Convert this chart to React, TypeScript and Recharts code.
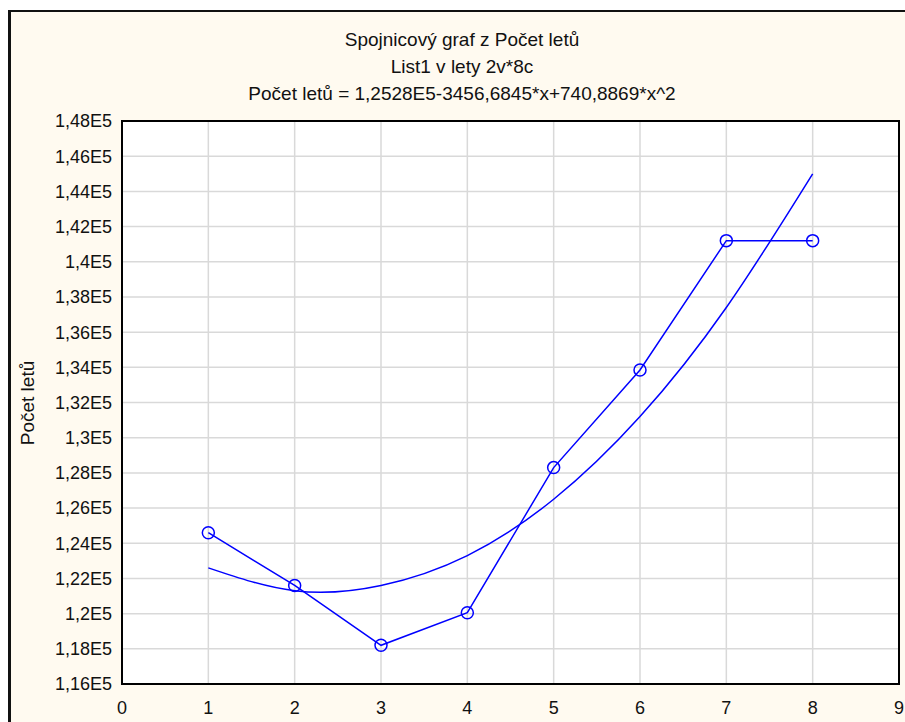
import React from "react";
import {
  LineChart,
  Line,
  XAxis,
  YAxis,
  CartesianGrid,
  ReferenceArea,
} from "recharts";

// x positions (roky / kategorie 1..8)
const xValues = [1, 2, 3, 4, 5, 6, 7, 8];
// Počet letů - observed values
const flights = [124600, 121600, 118200, 120050, 128300, 133850, 141200, 141200];
// quadratic fit curve
const fitValues = [122600, 121300, 121600, 123300, 126500, 131200, 137400, 145000];

const xTicks = [0, 1, 2, 3, 4, 5, 6, 7, 8, 9];
const yTicks = [
  116000, 118000, 120000, 122000, 124000, 126000, 128000, 130000, 132000,
  134000, 136000, 138000, 140000, 142000, 144000, 146000, 148000,
];
const yTickLabels = [
  "1,16E5", "1,18E5", "1,2E5", "1,22E5", "1,24E5", "1,26E5", "1,28E5", "1,3E5",
  "1,32E5", "1,34E5", "1,36E5", "1,38E5", "1,4E5", "1,42E5", "1,44E5", "1,46E5",
  "1,48E5",
];

const titleLines = [
  "Spojnicový graf z Počet letů",
  "List1 v lety 2v*8c",
  "Počet letů = 1,2528E5-3456,6845*x+740,8869*x^2",
];
const yLabel = "Počet letů";

const data = xValues.map((x, i) => ({ x, count: flights[i], fit: fitValues[i] }));

const FONT = "'Liberation Sans', Arial, sans-serif";
const BLUE = "#0000ff";

export default function App() {
  return (
    <div
      style={{
        position: "absolute",
        left: 0,
        top: 0,
        width: 905,
        height: 722,
        overflow: "hidden",
        background: "#fff",
        fontFamily: FONT,
      }}
    >
      {/* frame */}
      <div
        style={{
          position: "absolute",
          left: 8,
          top: 10,
          width: 910,
          height: 720,
          borderLeft: "3px solid #111",
          borderTop: "2px solid #111",
          background: "#fffaf0",
        }}
      />
      <div style={{ position: "absolute", left: 0, top: 0 }}>
        <LineChart
          width={905}
          height={722}
          data={data}
          margin={{ top: 121, right: 6, bottom: 8, left: 22 }}
        >
          <CartesianGrid
            stroke="#d9d9d9"
            strokeWidth={1.5}
            fill="#fff"
            fillOpacity={1}
          />
          <XAxis
            dataKey="x"
            type="number"
            domain={[0, 9]}
            ticks={xTicks}
            height={30}
            axisLine={false}
            tickLine={false}
            tickSize={0}
            tickMargin={17}
            tick={{ fill: "#111", fontSize: 18, fontFamily: FONT }}
          />
          <YAxis
            type="number"
            domain={[116000, 148000]}
            ticks={yTicks}
            width={100}
            axisLine={false}
            tickLine={false}
            tickSize={0}
            tickMargin={10}
            interval={0}
            tickFormatter={(v: number) => yTickLabels[yTicks.indexOf(v)] ?? ""}
            tick={{ fill: "#111", fontSize: 18, fontFamily: FONT }}
          />
          <ReferenceArea
            x1={0}
            x2={9}
            y1={116000}
            y2={148000}
            fill="none"
            stroke="#000"
            strokeWidth={2}
            ifOverflow="visible"
          />
          <Line
            dataKey="fit"
            type="natural"
            stroke={BLUE}
            strokeWidth={1.5}
            dot={false}
            activeDot={false}
            isAnimationActive={false}
          />
          <Line
            dataKey="count"
            type="linear"
            stroke={BLUE}
            strokeWidth={1.5}
            dot={{ r: 6, stroke: BLUE, strokeWidth: 1.5, fill: "none" }}
            activeDot={false}
            isAnimationActive={false}
          />
        </LineChart>
      </div>
      {/* titles and axis label */}
      <svg
        width={905}
        height={722}
        style={{ position: "absolute", left: 0, top: 0, pointerEvents: "none" }}
      >
        {titleLines.map((t, i) => (
          <text
            key={i}
            x={462}
            y={46 + i * 27}
            textAnchor="middle"
            fontSize={19}
            fontFamily={FONT}
            fill="#111"
          >
            {t}
          </text>
        ))}
        <text
          x={27}
          y={403}
          transform="rotate(-90, 27, 403)"
          textAnchor="middle"
          dominantBaseline="central"
          fontSize={19}
          fontFamily={FONT}
          fill="#111"
        >
          {yLabel}
        </text>
      </svg>
    </div>
  );
}
